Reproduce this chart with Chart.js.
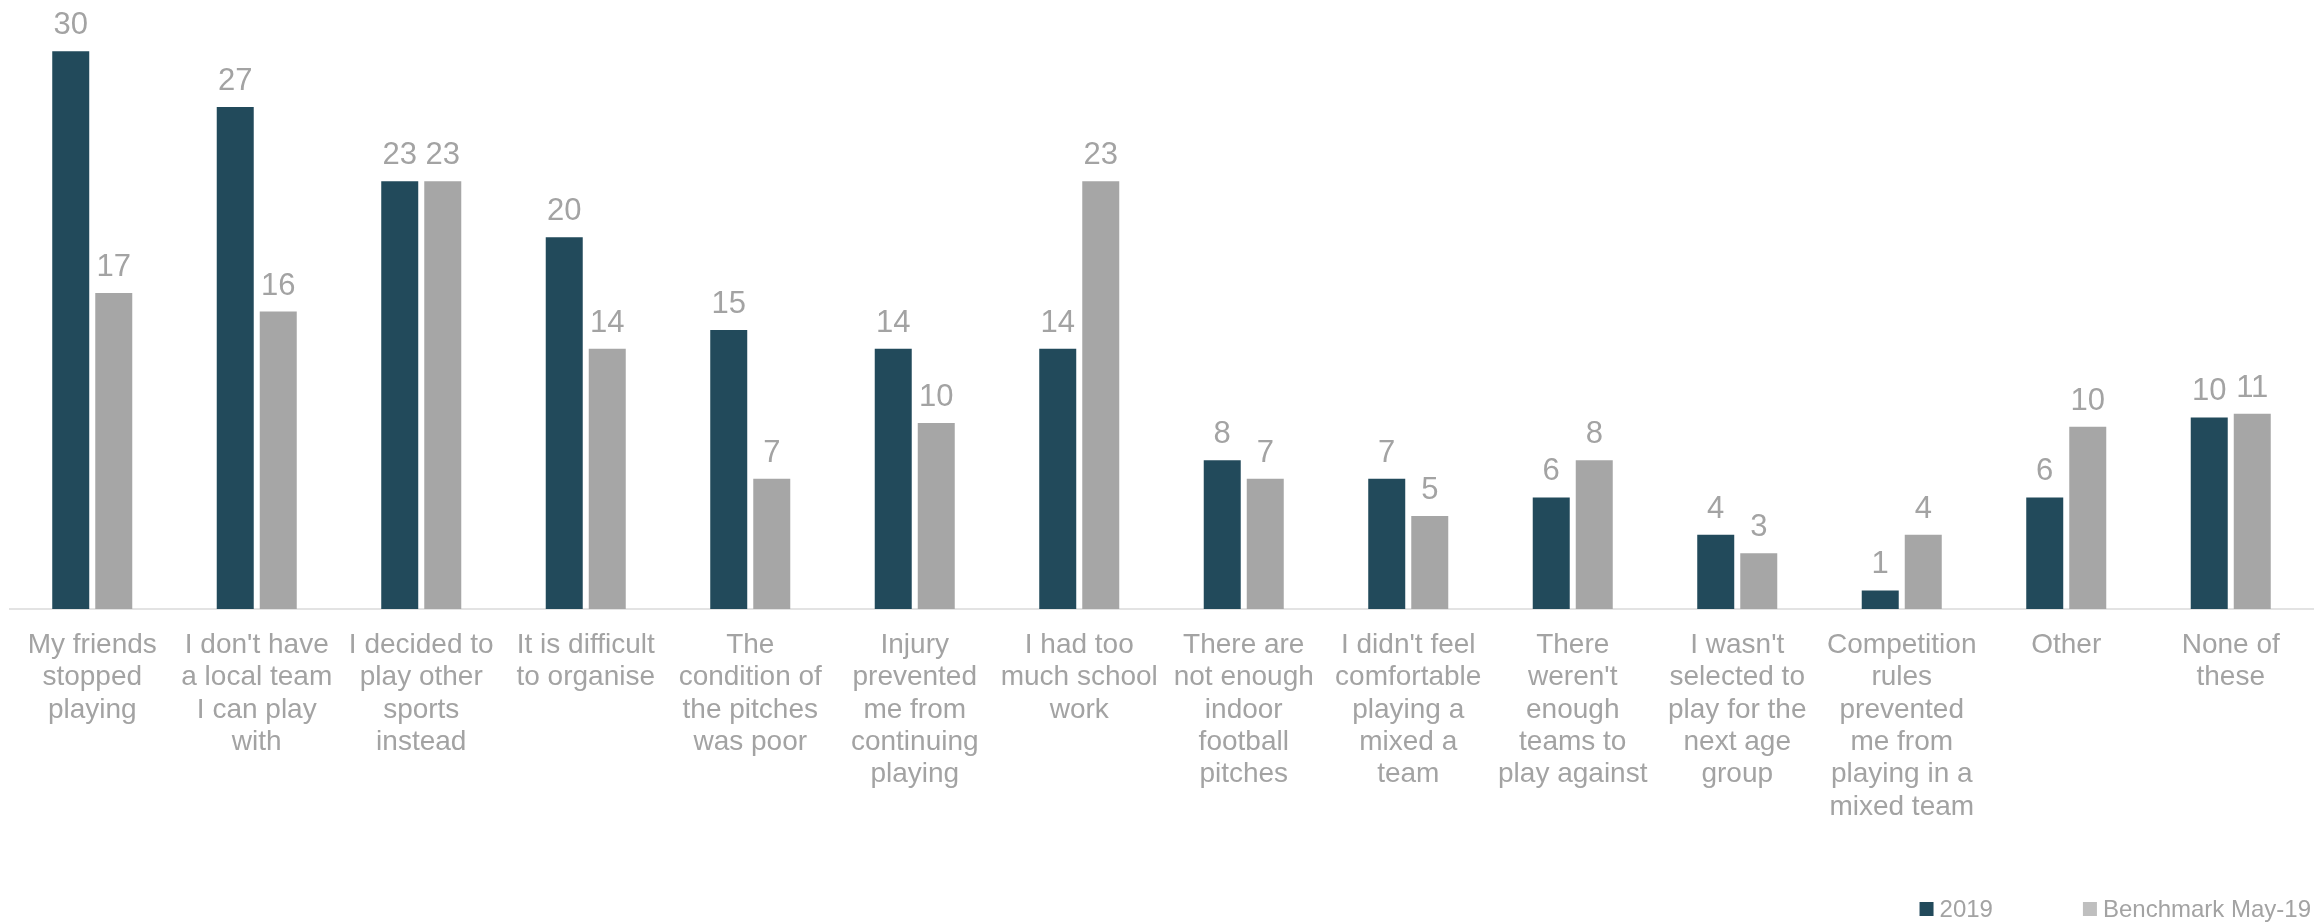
<!DOCTYPE html>
<html>
<head>
<meta charset="utf-8">
<script src="https://cdn.jsdelivr.net/npm/chart.js@4/dist/chart.umd.min.js"></script>
<style>
  html, body { margin: 0; padding: 0; background: #ffffff; }
  #wrap { width: 2323px; height: 922px; position: relative; }
</style>
</head>
<body>
<div id="wrap"><canvas id="c" width="2323" height="922"></canvas></div>
<script>
const categories = [
  ["My friends", "stopped", "playing"],
  ["I don't have", "a local team", "I can play", "with"],
  ["I decided to", "play other", "sports", "instead"],
  ["It is difficult", "to organise"],
  ["The", "condition of", "the pitches", "was poor"],
  ["Injury", "prevented", "me from", "continuing", "playing"],
  ["I had too", "much school", "work"],
  ["There are", "not enough", "indoor", "football", "pitches"],
  ["I didn't feel", "comfortable", "playing a", "mixed a", "team"],
  ["There", "weren't", "enough", "teams to", "play against"],
  ["I wasn't", "selected to", "play for the", "next age", "group"],
  ["Competition", "rules", "prevented", "me from", "playing in a", "mixed team"],
  ["Other"],
  ["None of", "these"]
];
const series2019 = [30, 27, 23, 20, 15, 14, 14, 8, 7, 6, 4, 1, 6, 10.3];
const seriesBenchmark = [17, 16, 23, 14, 7, 10, 23, 7, 5, 8, 3, 4, 9.8, 10.5];
const seriesNames = ["2019", "Benchmark May-19"];
const seriesColors = ['#224A5B', '#A6A6A6'];
const legendSwatchColors = ['#224A5B', '#BFBFBF'];

const TEXT_GREY = '#A3A3A3';
const SANS = "'Liberation Sans', Arial, sans-serif";

const valueLabels = {
  id: 'valueLabels',
  afterDatasetsDraw(chart) {
    const ctx = chart.ctx;
    ctx.save();
    ctx.fillStyle = TEXT_GREY;
    ctx.font = "31px " + SANS;
    ctx.textAlign = 'center';
    ctx.textBaseline = 'alphabetic';
    chart.data.datasets.forEach((ds, di) => {
      const meta = chart.getDatasetMeta(di);
      meta.data.forEach((bar, i) => {
        ctx.fillText(String(Math.round(ds.data[i])), bar.x, bar.y - 17);
      });
    });
    ctx.restore();
  }
};

// Legend drawn bottom-right, reading names/colours from the datasets
const bottomLegend = {
  id: 'bottomLegend',
  afterDraw(chart) {
    const ctx = chart.ctx;
    const box = 14, boxGap = 6, itemGap = 90, rightEdge = chart.width - 12, cy = 909;
    ctx.save();
    ctx.font = "24px " + SANS;
    ctx.textBaseline = 'middle';
    ctx.textAlign = 'left';
    const items = chart.data.datasets.map((ds, i) => ({ text: ds.label, color: legendSwatchColors[i], w: ctx.measureText(ds.label).width }));
    let total = 0;
    items.forEach((it, i) => { total += box + boxGap + it.w + (i < items.length - 1 ? itemGap : 0); });
    let x = rightEdge - total;
    items.forEach((it) => {
      ctx.fillStyle = it.color;
      ctx.fillRect(x, cy - box / 2, box, box);
      x += box + boxGap;
      ctx.fillStyle = TEXT_GREY;
      ctx.fillText(it.text, x, cy + 1);
      x += it.w + itemGap;
    });
    ctx.restore();
  }
};

new Chart(document.getElementById('c'), {
  type: 'bar',
  data: {
    labels: categories,
    datasets: [
      { label: seriesNames[0], data: series2019, backgroundColor: seriesColors[0], borderWidth: 0 },
      { label: seriesNames[1], data: seriesBenchmark, backgroundColor: seriesColors[1], borderWidth: 0 }
    ]
  },
  options: {
    responsive: false,
    animation: false,
    devicePixelRatio: 1,
    layout: { padding: { top: 14, left: 10, right: 10, bottom: 0 } },
    datasets: { bar: { categoryPercentage: 0.523, barPercentage: 0.86 } },
    scales: {
      x: {
        grid: { display: false, drawTicks: false },
        border: { display: true, color: '#E3E3E3', width: 2 },
        ticks: {
          color: TEXT_GREY,
          font: { family: SANS, size: 28, lineHeight: 1.155 },
          padding: 20,
          maxRotation: 0,
          autoSkip: false
        },
        afterFit(scale) { scale.height = 313; }
      },
      y: {
        display: false,
        min: 0,
        max: 32,
        grid: { display: false }
      }
    },
    plugins: {
      legend: { display: false },
      tooltip: { enabled: false }
    }
  },
  plugins: [valueLabels, bottomLegend]
});
</script>
</body>
</html>
